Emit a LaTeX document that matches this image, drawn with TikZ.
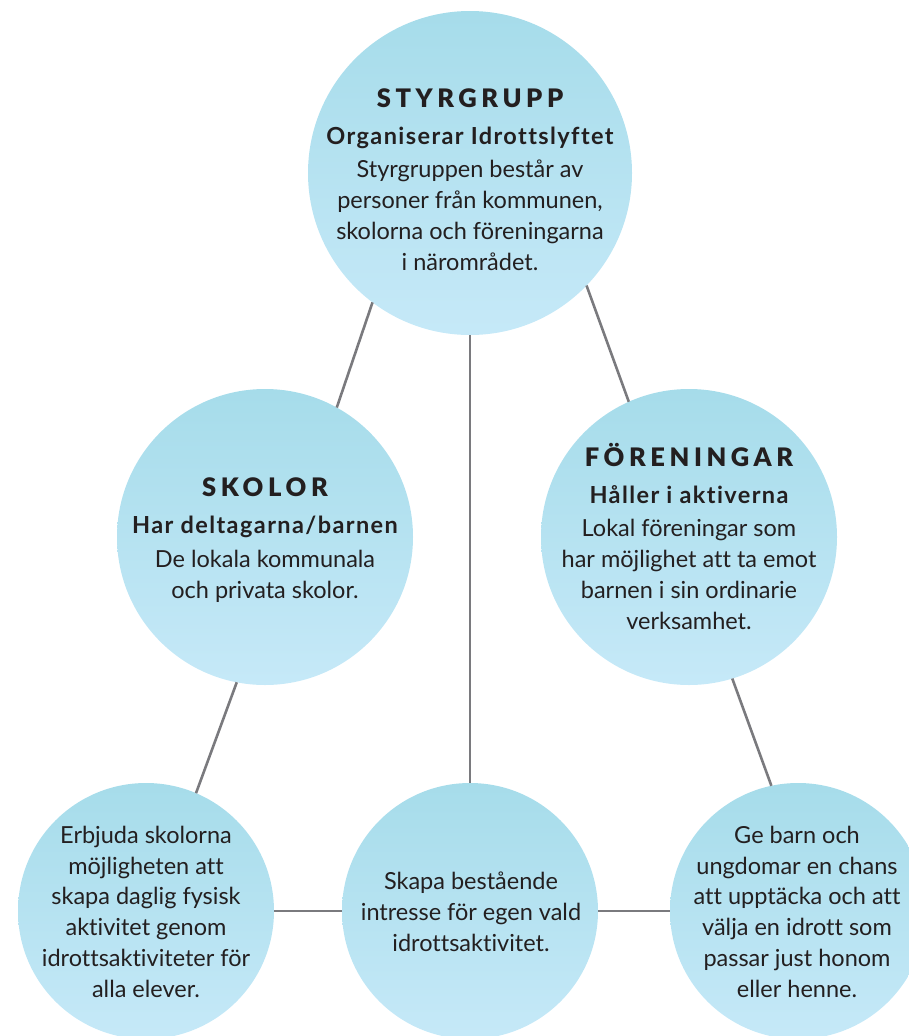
\documentclass[tikz,border=0pt]{standalone}
\usepackage{fontspec}
\setmainfont{Lato}[Ligatures = NoCommon]
\newfontfamily\heavyFamily{Lato Black}[Ligatures = NoCommon]
\usetikzlibrary{positioning}
\tikzstyle{diagram} = [x = 1pt, y = -1pt]
\definecolor{bubbleTop}{RGB}{166,220,234}
\definecolor{bubbleBottom}{RGB}{198,233,248}
\definecolor{lineColor}{RGB}{122,122,126}
\definecolor{textColor}{RGB}{35,31,32}
\tikzstyle{bubbleStyle} = [circle, inner sep = 0, outer sep = 0, top color = bubbleTop, middle color = bubbleTop, bottom color = bubbleBottom]
\tikzstyle{bigBubble} = [bubbleStyle, minimum size = 324pt]
\tikzstyle{midBubble} = [bubbleStyle, minimum size = 296pt]
\tikzstyle{smallBubble} = [bubbleStyle, minimum size = 256pt]
\tikzstyle{linkLine} = [color = lineColor, line width = 2.6pt]
\tikzstyle{bubbleText} = [text = textColor, align = center, anchor = base, inner sep = 0, font = \bodyFont]
\newcommand{\bodyFont}{\fontsize{23.5}{30.7}\selectfont}
\newcommand{\titleFont}{\fontsize{25.5}{30}\selectfont\heavyFamily\addfontfeatures{LetterSpace = 18}}
\newcommand{\subtitleFont}{\bfseries\addfontfeatures{LetterSpace = 6}}

\begin{document}
\begin{tikzpicture}[diagram]
  \useasboundingbox (0,0) rectangle (909,1036);
  \clip (0,0) rectangle (909,1036);

  \node [bigBubble] (styrgrupp) at (470,173) {};
  \node [midBubble] (skolor) at (265,537) {};
  \node [midBubble] (foreningar) at (689,537) {};
  \node [smallBubble] (erbjuda) at (146,911) {};
  \node [smallBubble] (skapa) at (470,911) {};
  \node [smallBubble] (geBarn) at (798,911) {};

  \draw [linkLine] (styrgrupp.233) -- (skolor.61);
  \draw [linkLine] (styrgrupp.316) -- (foreningar.114);
  \draw [linkLine] (styrgrupp.south) -- (skapa.north);
  \draw [linkLine] (skolor.259) -- (erbjuda.67);
  \draw [linkLine] (foreningar.287) -- (geBarn.102);
  \draw [linkLine] (erbjuda.east) -- (skapa.west);
  \draw [linkLine] (skapa.east) -- (geBarn.west);

  \node [bubbleText] (styrgruppText) at (470,270) {{\titleFont STYRGRUPP}\\[6pt]
    {\subtitleFont Organiserar Idrottslyftet}\\[3pt]
    Styrgruppen består av\\ personer från kommunen,\\ skolorna och föreningarna\\ i närområdet.};
  \node [bubbleText] (skolorText) at (265,598) {{\titleFont SKOLOR}\\[6pt]
    {\subtitleFont Har deltagarna/barnen}\\[3pt]
    De lokala kommunala\\ och privata skolor.};
  \node [bubbleText] (foreningarText) at (689,629) {{\titleFont FÖRENINGAR}\\[6pt]
    {\subtitleFont Håller i aktiverna}\\[3pt]
    Lokal föreningar som\\ har möjlighet att ta emot\\ barnen i sin ordinarie\\ verksamhet.};
  \node [bubbleText] (erbjudaText) at (146,997) {Erbjuda skolorna\\ möjligheten att\\ skapa daglig fysisk\\ aktivitet genom\\ idrottsaktiviteter för\\ alla elever.};
  \node [bubbleText] (skapaText) at (471,951) {Skapa bestående\\ intresse för egen vald\\ idrottsaktivitet.};
  \node [bubbleText] (geBarnText) at (797,997) {Ge barn och\\ ungdomar en chans\\ att upptäcka och att\\ välja en idrott som\\ passar just honom\\ eller henne.};
\end{tikzpicture}
\end{document}
